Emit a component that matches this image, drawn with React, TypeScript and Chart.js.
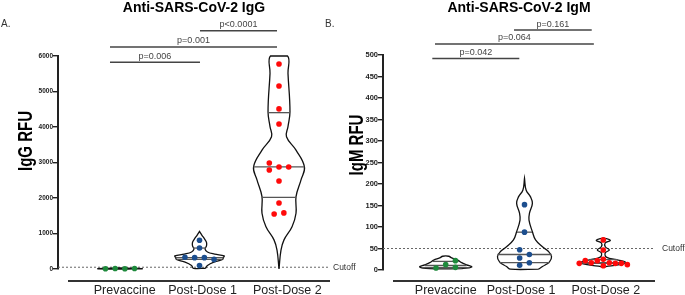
import React, { useEffect, useRef } from "react";
import { Chart, registerables } from "chart.js";

Chart.register(...registerables);

const FONT = "'Liberation Sans', Arial, Helvetica, sans-serif";

const categories = ["Prevaccine", "Post-Dose 1", "Post-Dose 2"];

// ---------- IgG (panel A) ----------
const iggTicks = [0, 1000, 2000, 3000, 4000, 5000, 6000];
const iggPrevaccine = [8, 15, 5, 12];
const iggPrevaccineJitter = [-1.5, -0.5, 0.5, 1.5];
const iggDose1 = [808, 590, 330, 320, 320, 270, 100];
const iggDose1Jitter = [0, 0, -1.5, -0.5, 0.5, 1.5, 0];
const iggDose2 = [5775, 5155, 4510, 4085, 2985, 2875, 2875, 2790, 2480, 1860, 1580, 1550];
const iggDose2Jitter = [0, 0, 0, 0, -1, 0, 1, -1, 0, 0, 0.5, -0.5];

const iggPreViolinLevels = [0, 5, 12, 20, 30];
const iggPreViolinWidths = [0.1, 0.28, 0.28, 0.18, 0];
const iggDose1ViolinLevels = [20, 100, 200, 270, 320, 370, 420, 480, 560, 650, 750, 850, 950, 1060];
const iggDose1ViolinWidths = [0.075, 0.1, 0.19, 0.29, 0.3, 0.31, 0.19, 0.1, 0.07, 0.088, 0.088, 0.063, 0.031, 0];
const iggDose2ViolinLevels = [0, 530, 820, 1190, 1570, 2040, 2510, 2880, 3350, 3725, 4010, 4430, 5510, 6000];
const iggDose2ViolinWidths = [0, 0.025, 0.063, 0.164, 0.214, 0.214, 0.277, 0.32, 0.214, 0.094, 0.113, 0.138, 0.113, 0.107];

const iggDose1Quartiles = [590, 320, 270];
const iggDose1QuartileWidths = [0.082, 0.3, 0.29];
const iggDose2Quartiles = [4404, 2875, 2015];
const iggDose2QuartileWidths = [0.138, 0.32, 0.214];

const iggCutoff = 50;
const iggBracketLabels = ["p=0.006", "p=0.001", "p<0.0001"];
const iggBracketFrom = [0.874, 0.874, 2.006];
const iggBracketTo = [2.006, 2.975, 2.975];
const iggBracketLevel = [5823, 6254, 6713];

// ---------- IgM (panel B) ----------
const igmTicks = [0, 50, 100, 150, 200, 250, 300, 350, 400, 450, 500];
const igmPrevaccine = [21.7, 12.4, 4.7, 6.2];
const igmPrevaccineJitter = [1, 0, -1, 1];
const igmDose1 = [152, 88, 47, 36, 28, 17, 11];
const igmDose1Jitter = [0, 0, -0.5, 0.5, -0.5, 0.5, -0.5];
const igmDose2 = [70, 46.5, 24.8, 21.7, 21.7, 17, 17, 15.5, 15.5, 15.5, 12.4, 10];
const igmDose2Jitter = [0, 0, 0, -1.86, -0.62, -1.24, 0.62, -2.48, 1.24, 1.86, 2.48, 0];

const igmPreViolinLevels = [3, 7, 12, 17, 23, 28, 32];
const igmPreViolinWidths = [0.203, 0.33, 0.266, 0.203, 0.152, 0.076, 0.038];
const igmDose1ViolinLevels = [2, 8, 19, 31, 43, 54, 70, 89, 116, 132, 155, 170, 186, 213];
const igmDose1ViolinWidths = [0.178, 0.228, 0.317, 0.343, 0.305, 0.228, 0.14, 0.1, 0.057, 0.063, 0.1, 0.076, 0.02, 0];
const igmDose2ViolinLevels = [6, 9, 14, 18.6, 23, 30, 40, 46.5, 54, 63, 69, 75];
const igmDose2ViolinWidths = [0, 0.063, 0.254, 0.279, 0.19, 0.038, 0.025, 0.076, 0.025, 0.025, 0.089, 0];

const igmPreQuartiles = [20, 10.5, 5.5];
const igmPreQuartileWidths = [0.165, 0.266, 0.305];
const igmDose1Quartiles = [88, 36, 17];
const igmDose1QuartileWidths = [0.095, 0.343, 0.317];
const igmDose2Quartiles = [24.25, 17, 15.25];
const igmDose2QuartileWidths = [0.178, 0.279, 0.266];

const igmCutoff = 50;
const igmBracketLabels = ["p=0.042", "p=0.064", "p=0.161"];
const igmBracketFrom = [0.83, 0.864, 1.867];
const igmBracketTo = [1.934, 2.88, 2.853];
const igmBracketLevel = [492, 525.6, 558];

const GREEN = "#1e8a3c";
const BLUE = "#1c4e8e";
const RED = "#ff0a0a";

type Group = {
  values: number[];
  jitter: number[];
  step: number;
  color: string;
  levels: number[];
  widths: number[];
  qLevels: number[];
  qWidths: number[];
};

type PanelCfg = {
  groups: Group[];
  yMax: number;
  ticks: number[];
  tickSize: number;
  xMin: number;
  xMax: number;
  padding: { left: number; right: number; top: number; bottom: number };
  yWidth: number;
  cutoff: number;
  bracketLabels: string[];
  bracketFrom: number[];
  bracketTo: number[];
  bracketLevel: number[];
  text: any;
};

const panelA: PanelCfg = {
  groups: [
    { values: iggPrevaccine, jitter: iggPrevaccineJitter, step: 0.122, color: GREEN, levels: iggPreViolinLevels, widths: iggPreViolinWidths, qLevels: [], qWidths: [] },
    { values: iggDose1, jitter: iggDose1Jitter, step: 0.122, color: BLUE, levels: iggDose1ViolinLevels, widths: iggDose1ViolinWidths, qLevels: iggDose1Quartiles, qWidths: iggDose1QuartileWidths },
    { values: iggDose2, jitter: iggDose2Jitter, step: 0.122, color: RED, levels: iggDose2ViolinLevels, widths: iggDose2ViolinWidths, qLevels: iggDose2Quartiles, qWidths: iggDose2QuartileWidths },
  ],
  yMax: 6000,
  ticks: iggTicks,
  tickSize: 6.5,
  xMin: 0.22,
  xMax: 3.6415,
  padding: { left: 0, right: 355, top: 56, bottom: 26 },
  yWidth: 58,
  cutoff: iggCutoff,
  bracketLabels: iggBracketLabels,
  bracketFrom: iggBracketFrom,
  bracketTo: iggBracketTo,
  bracketLevel: iggBracketLevel,
  text: {
    title: "Anti-SARS-CoV-2 IgG",
    letter: "A.",
    letterX: 1,
    yTitle: "IgG RFU",
    yTitleX: 26,
    yTitleY: 141,
    yTitleSize: 20,
    yTitleSquash: 0.75,
    cutoffGap: 3,
    xAxisStart: 68,
    labelPos: [1.059, 2.038, 3.105],
  },
};

const panelB: PanelCfg = {
  groups: [
    { values: igmPrevaccine, jitter: igmPrevaccineJitter, step: 0.123, color: GREEN, levels: igmPreViolinLevels, widths: igmPreViolinWidths, qLevels: igmPreQuartiles, qWidths: igmPreQuartileWidths },
    { values: igmDose1, jitter: igmDose1Jitter, step: 0.123, color: BLUE, levels: igmDose1ViolinLevels, widths: igmDose1ViolinWidths, qLevels: igmDose1Quartiles, qWidths: igmDose1QuartileWidths },
    { values: igmDose2, jitter: igmDose2Jitter, step: 0.123, color: RED, levels: igmDose2ViolinLevels, widths: igmDose2ViolinWidths, qLevels: igmDose2Quartiles, qWidths: igmDose2QuartileWidths },
  ],
  yMax: 500,
  ticks: igmTicks,
  tickSize: 7.5,
  xMin: 0.2043,
  xMax: 3.656,
  padding: { left: 330, right: 30, top: 55, bottom: 25 },
  yWidth: 53,
  cutoff: igmCutoff,
  bracketLabels: igmBracketLabels,
  bracketFrom: igmBracketFrom,
  bracketTo: igmBracketTo,
  bracketLevel: igmBracketLevel,
  text: {
    title: "Anti-SARS-CoV-2 IgM",
    letter: "B.",
    letterX: 325,
    yTitle: "IgM RFU",
    yTitleX: 357,
    yTitleY: 145,
    yTitleSize: 20,
    yTitleSquash: 0.75,
    cutoffGap: 7,
    xAxisStart: 393,
    labelPos: [1.001, 1.956, 3.032],
  },
};

const panelTextPlugin = {
  id: "panelText",
  afterDatasetsDraw(chart: any, _args: any, o: any) {
    const ctx = chart.ctx as CanvasRenderingContext2D;
    const xs = chart.scales.x;
    const ys = chart.scales.y;
    const a = chart.chartArea;
    ctx.save();
    // title
    ctx.fillStyle = "#000";
    ctx.font = `bold 14px ${FONT}`;
    ctx.textAlign = "center";
    ctx.textBaseline = "alphabetic";
    ctx.fillText(o.title, (a.left + a.right) / 2, 12);
    // panel letter
    ctx.font = `10px ${FONT}`;
    ctx.fillStyle = "#333";
    ctx.textAlign = "left";
    ctx.fillText(o.letter, o.letterX, 27);
    // y title
    ctx.save();
    ctx.translate(o.yTitleX, o.yTitleY);
    ctx.rotate(-Math.PI / 2);
    ctx.scale(o.yTitleSquash, 1);
    ctx.font = `bold ${o.yTitleSize}px ${FONT}`;
    ctx.textAlign = "center";
    ctx.textBaseline = "middle";
    ctx.fillStyle = "#000";
    ctx.fillText(o.yTitle, 0, 0);
    ctx.restore();
    // p-values
    ctx.font = `9px ${FONT}`;
    ctx.fillStyle = "#444";
    ctx.textAlign = "center";
    ctx.textBaseline = "alphabetic";
    o.brackets.forEach((b: any) => {
      const x = (xs.getPixelForValue(b.from) + xs.getPixelForValue(b.to)) / 2;
      const y = ys.getPixelForValue(b.level) - 3.5;
      ctx.fillText(b.label, x, y);
    });
    // cutoff label
    ctx.font = `8.5px ${FONT}`;
    ctx.fillStyle = "#333";
    ctx.textAlign = "left";
    ctx.textBaseline = "middle";
    ctx.fillText("Cutoff", a.right + o.cutoffGap, ys.getPixelForValue(o.cutoff));
    // x axis line
    ctx.strokeStyle = "#333";
    ctx.lineWidth = 1.8;
    ctx.beginPath();
    ctx.moveTo(o.xAxisStart, 281);
    ctx.lineTo(a.right, 281);
    ctx.stroke();
    // category labels
    ctx.font = `12.5px ${FONT}`;
    ctx.fillStyle = "#222";
    ctx.textAlign = "center";
    ctx.textBaseline = "alphabetic";
    categories.forEach((l, i) => ctx.fillText(l, xs.getPixelForValue(o.labelPos[i]), 293.5));
    ctx.restore();
  },
};

function buildConfig(p: PanelCfg): any {
  const datasets: any[] = [];
  p.groups.forEach((g, gi) => {
    const c = gi + 1;
    datasets.push({
      data: g.values.map((v, i) => ({ x: c + g.jitter[i] * g.step, y: v })),
      showLine: false,
      pointRadius: 2.8,
      pointHoverRadius: 2.8,
      pointBackgroundColor: g.color,
      pointBorderWidth: 0,
      order: 0,
      clip: false,
    });
    const pts: { x: number; y: number }[] = [];
    g.levels.forEach((l, i) => pts.push({ x: c + g.widths[i], y: l }));
    for (let i = g.levels.length - 1; i >= 0; i--) pts.push({ x: c - g.widths[i], y: g.levels[i] });
    pts.push({ ...pts[0] });
    datasets.push({
      data: pts,
      showLine: true,
      pointRadius: 0,
      borderColor: "#111",
      borderWidth: 1.3,
      tension: 0.4,
      fill: false,
      order: 2,
      clip: false,
    });
    g.qLevels.forEach((q, i) =>
      datasets.push({
        data: [
          { x: c - g.qWidths[i], y: q },
          { x: c + g.qWidths[i], y: q },
        ],
        showLine: true,
        pointRadius: 0,
        borderColor: "#555",
        borderWidth: 1.3,
        order: 1,
        clip: false,
      })
    );
  });
  datasets.push({
    data: [
      { x: p.xMin, y: p.cutoff },
      { x: p.xMax, y: p.cutoff },
    ],
    showLine: true,
    borderDash: [2, 2],
    borderColor: "#666",
    borderWidth: 1,
    pointRadius: 0,
    order: 3,
    clip: false,
  });
  p.bracketLabels.forEach((_, i) =>
    datasets.push({
      data: [
        { x: p.bracketFrom[i], y: p.bracketLevel[i] },
        { x: p.bracketTo[i], y: p.bracketLevel[i] },
      ],
      showLine: true,
      borderColor: "#444",
      borderWidth: 1.5,
      pointRadius: 0,
      order: 1,
      clip: false,
    })
  );

  return {
    type: "scatter",
    data: { datasets },
    options: {
      responsive: false,
      animation: false,
      devicePixelRatio: 1,
      layout: { padding: p.padding },
      events: [],
      scales: {
        x: { type: "linear", display: false, min: p.xMin, max: p.xMax },
        y: {
          type: "linear",
          min: 0,
          max: p.yMax,
          afterFit: (s: any) => {
            s.width = p.yWidth;
          },
          afterBuildTicks: (s: any) => {
            s.ticks = p.ticks.map((v) => ({ value: v }));
          },
          grid: { display: true, drawOnChartArea: false, drawTicks: true, tickLength: 5, color: "#222", lineWidth: 1.4 },
          border: { display: true, color: "#222", width: 2 },
          ticks: {
            padding: 0,
            color: "#222",
            font: { family: FONT, size: p.tickSize, weight: "bold" },
            callback: (v: any) => String(v),
          },
        },
      },
      plugins: {
        legend: { display: false },
        tooltip: { enabled: false },
        title: { display: false },
        panelText: {
          ...p.text,
          cutoff: p.cutoff,
          brackets: p.bracketLabels.map((label, i) => ({
            label,
            from: p.bracketFrom[i],
            to: p.bracketTo[i],
            level: p.bracketLevel[i],
          })),
        },
      },
    },
    plugins: [panelTextPlugin],
  };
}

function Panel({ cfg }: { cfg: PanelCfg }) {
  const ref = useRef<HTMLCanvasElement>(null);
  useEffect(() => {
    const chart = new Chart(ref.current as HTMLCanvasElement, buildConfig(cfg));
    return () => chart.destroy();
  }, [cfg]);
  return (
    <canvas
      ref={ref}
      width={685}
      height={295}
      style={{ position: "absolute", left: 0, top: 0, width: 685, height: 295 }}
    />
  );
}

export default function App() {
  return (
    <div style={{ position: "fixed", left: 0, top: 0, width: 685, height: 295, background: "#fff", overflow: "hidden" }}>
      <Panel cfg={panelA} />
      <Panel cfg={panelB} />
    </div>
  );
}
